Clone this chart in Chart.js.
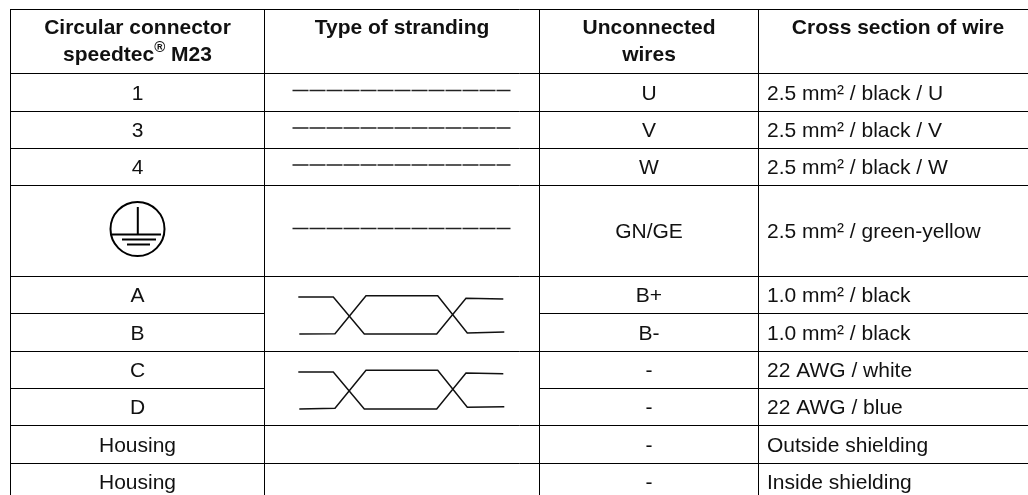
<!DOCTYPE html>
<html>
<head>
<meta charset="utf-8">
<title>Circular connector speedtec M23</title>
<script src="https://cdn.jsdelivr.net/npm/chart.js@4"></script>
<style>
    html, body { margin: 0; padding: 0; background: #fff; }
    canvas { display: block; }
</style>
</head>
<body>
<canvas id="table-chart" width="1028" height="495"></canvas>
<script>
// Table content
const headerConnector = ['Circular connector', 'speedtec', '®', ' M23'];
const headerStranding = ['Type of stranding'];
const headerWires = ['Unconnected', 'wires'];
const headerCross = ['Cross section of wire'];
const connectorLabels = ['1', '3', '4', '', 'A', 'B', 'C', 'D', 'Housing', 'Housing'];
const wireLabels = ['U', 'V', 'W', 'GN/GE', 'B+', 'B-', '-', '-', '-', '-'];
const crossLabels = [
    '2.5 mm² / black / U', '2.5 mm² / black / V', '2.5 mm² / black / W',
    '2.5 mm² / green-yellow', '1.0 mm² / black', '1.0 mm² / black',
    '22 AWG / white', '22 AWG / blue', 'Outside shielding', 'Inside shielding'
];

// Table rules (axis units = picture pixels)
const rowEdges = [9.5, 73.5, 111.5, 148.5, 185.5, 276.5, 313.5, 351.5, 388.5, 425.5, 463.5];
const columnEdges = [10.5, 264.5, 539.5, 758.5];
const splitRows = [313.5, 388.5]; // these stop at the stranding column
const tableRight = 1028;
const tableBottom = 495;

// Straight strands
const strandX = [292.5, 510.5];
const strandY = [90.5, 128, 165, 228.5];

// Twisted pairs
const pairWireAX = [298.3, 333.3, 364.3, 436.7, 466, 503.3];
const pairWireAY = [297, 297, 334, 334, 298.3, 299];
const pairWireBX = [299.3, 335, 366, 437.7, 467.3, 504.3];
const pairWireBY = [334, 333.7, 295.7, 295.7, 333, 332];
const pairWireCY = [372, 372, 409, 409, 373, 373.7];
const pairWireDY = [409, 408.3, 370.3, 370.3, 407.3, 406.7];

// Earth symbol
const earthCentre = [137.5, 229];
const earthStemX = [137.8, 137.8];
const earthStemY = [207, 234];
const earthBarsY = [234.5, 239.5, 244.5];
const earthBarsX = [[112, 161], [122, 156], [127, 150]];

const toPoints = (xs, ys) => xs.map((x, i) => ({ x: x, y: ys[i] }));

function lineSet(points, width, extra) {
    return Object.assign({
        type: 'line',
        data: points,
        borderColor: '#000',
        borderWidth: width,
        pointRadius: 0,
        tension: 0,
        fill: false
    }, extra || {});
}

const datasets = [];

// horizontal rules
rowEdges.forEach(y => {
    const split = splitRows.includes(y);
    if (split) {
        datasets.push(lineSet(toPoints([columnEdges[0], columnEdges[1]], [y, y]), 1));
        datasets.push(lineSet(toPoints([columnEdges[2], tableRight], [y, y]), 1));
    } else {
        datasets.push(lineSet(toPoints([columnEdges[0], tableRight], [y, y]), 1));
    }
});

// vertical rules
columnEdges.forEach(x => {
    datasets.push(lineSet(toPoints([x, x], [rowEdges[0] - 0.5, tableBottom]), 1));
});

strandY.forEach(y => {
    datasets.push(lineSet(toPoints(strandX, [y, y]), 1.6, { borderColor: '#222', borderDash: [16, 1] }));
});

datasets.push(lineSet(toPoints(pairWireAX, pairWireAY), 1.5, { borderColor: '#111' }));
datasets.push(lineSet(toPoints(pairWireBX, pairWireBY), 1.5, { borderColor: '#111' }));
datasets.push(lineSet(toPoints(pairWireAX, pairWireCY), 1.5, { borderColor: '#111' }));
datasets.push(lineSet(toPoints(pairWireBX, pairWireDY), 1.5, { borderColor: '#111' }));

// earth symbol: ring, stem, three bars
datasets.push({
    type: 'scatter',
    data: [{ x: earthCentre[0], y: earthCentre[1] }],
    pointRadius: 27,
    pointBorderWidth: 2,
    pointBorderColor: '#000',
    pointBackgroundColor: 'rgba(0,0,0,0)'
});
datasets.push(lineSet(toPoints(earthStemX, earthStemY), 2));
earthBarsY.forEach((y, i) => {
    datasets.push(lineSet(toPoints(earthBarsX[i], [y, y]), 2));
});

const FONT = '"Liberation Sans", Arial, sans-serif';
const BODY_FONT = '21px ' + FONT;
const HEAD_FONT = 'bold 21px ' + FONT;

// Draws the table texts at positions taken from the chart's scales
const tableText = {
    id: 'tableText',
    afterDatasetsDraw(chart) {
        const ctx = chart.ctx;
        const sx = chart.scales.x;
        const sy = chart.scales.y;
        const midColumn = i => (columnEdges[i] + columnEdges[i + 1]) / 2;
        const rowMid = i => (rowEdges[i + 1] + (rowEdges[i + 2] || rowEdges[i + 1] + 37.5)) / 2;

        ctx.save();
        ctx.fillStyle = '#111';
        ctx.textBaseline = 'alphabetic';

        // header
        ctx.font = HEAD_FONT;
        ctx.textAlign = 'center';
        ctx.fillText(headerConnector[0], sx.getPixelForValue(midColumn(0)), sy.getPixelForValue(34));
        ctx.fillText(headerStranding[0], sx.getPixelForValue(midColumn(1)), sy.getPixelForValue(34));
        ctx.fillText(headerWires[0], sx.getPixelForValue(midColumn(2)), sy.getPixelForValue(34));
        ctx.fillText(headerWires[1], sx.getPixelForValue(midColumn(2)), sy.getPixelForValue(61));
        ctx.fillText(headerCross[0], sx.getPixelForValue(898), sy.getPixelForValue(34));

        // header line with the raised trademark sign
        const partA = ctx.measureText(headerConnector[1]).width;
        const partC = ctx.measureText(headerConnector[3]).width;
        ctx.font = 'bold 15px ' + FONT;
        const partB = ctx.measureText(headerConnector[2]).width;
        let left = sx.getPixelForValue(midColumn(0)) - (partA + partB + partC) / 2;
        ctx.textAlign = 'left';
        ctx.fillText(headerConnector[2], left + partA, sy.getPixelForValue(52));
        ctx.font = HEAD_FONT;
        ctx.fillText(headerConnector[1], left, sy.getPixelForValue(61));
        ctx.fillText(headerConnector[3], left + partA + partB, sy.getPixelForValue(61));

        // body rows
        ctx.font = BODY_FONT;
        connectorLabels.forEach((label, i) => {
            const y = sy.getPixelForValue(rowMid(i) + 7);
            ctx.textAlign = 'center';
            ctx.fillText(label, sx.getPixelForValue(midColumn(0)), y);
            ctx.fillText(wireLabels[i], sx.getPixelForValue(midColumn(2)), y);
            ctx.textAlign = 'left';
            ctx.fillText(crossLabels[i], sx.getPixelForValue(767), y);
        });
        ctx.restore();
    }
};

new Chart(document.getElementById('table-chart'), {
    type: 'scatter',
    data: { datasets: datasets },
    options: {
        responsive: false,
        animation: false,
        events: [],
        layout: { padding: 0, autoPadding: false },
        plugins: {
            legend: { display: false },
            tooltip: { enabled: false }
        },
        scales: {
            x: { type: 'linear', display: false, min: 0, max: 1028 },
            y: { type: 'linear', display: false, min: 0, max: 495, reverse: true }
        }
    },
    plugins: [tableText]
});
</script>
</body>
</html>
